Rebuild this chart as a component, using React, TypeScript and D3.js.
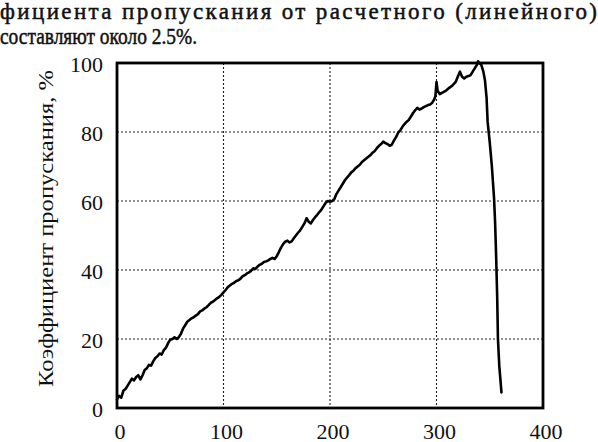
import React from "react";
import * as d3 from "d3";

const headerLines = [
  "фициента пропускания от расчетного (линейного)",
  "составляют около 2.5%.",
];
const yAxisLabel = "Коэффициент пропускания, %";
const xTicks = [0, 100, 200, 300, 400];
const yTicks = [0, 20, 40, 60, 80, 100];

const xs = [
  0, 2, 4, 6, 8, 10, 12, 14, 16, 18, 20, 22, 24, 26, 28, 30, 32, 34, 36, 38,
  40, 42, 44, 46, 48, 50, 52, 54, 56, 58, 60, 62, 64, 66, 68, 70, 72, 74, 76, 78,
  80, 82, 84, 86, 88, 90, 92, 94, 96, 98, 100, 102, 104, 106, 108, 110, 112, 114, 116, 118,
  120, 122, 124, 126, 128, 130, 132, 134, 136, 138, 140, 142, 144, 146, 148, 150, 152, 154, 156, 158,
  160, 162, 164, 166, 168, 170, 172, 174, 176, 178, 180, 182, 184, 186, 188, 190, 192, 194, 196, 198,
  200, 202, 204, 206, 208, 210, 212, 214, 216, 218, 220, 222, 224, 226, 228, 230, 232, 234, 236, 238,
  240, 242, 244, 246, 248, 250, 252, 254, 256, 258, 260, 262, 264, 266, 268, 270, 272, 274, 276, 278,
  280, 282, 284, 286, 288, 290, 292, 294, 296, 298, 299, 300, 301, 303, 306, 309, 312, 315, 318, 320,
  322, 324, 326, 328, 330, 332, 334, 336, 338, 339, 340, 342, 344, 345.5, 347, 348, 350, 352, 354, 355,
  356, 357, 357.7, 359, 361,
];
const ys = [
  2.5, 3.5, 3, 5, 5.5, 6.5, 7.5, 8.5, 8, 9, 9.5, 8.3, 9.5, 11, 11.5, 12.5, 12.3, 13.5, 14.5, 15,
  15.8, 15.5, 16.8, 17.5, 18.8, 19.8, 20, 20.5, 20, 20.5, 21.5, 23, 24, 25, 25.5, 26, 26.3, 26.8, 27.2, 28,
  28.3, 28.8, 29.2, 29.8, 30.5, 30.8, 31.3, 31.8, 32.2, 32.8, 33.5, 34.2, 35, 35.5, 36, 36.3, 36.8, 37, 37.5, 38.2,
  38.5, 39, 39.3, 39.8, 40.5, 40.3, 41, 41.5, 41.8, 42.3, 42.5, 42.8, 43.2, 43.5, 43.2, 44, 45.2, 46.5, 47.5, 48.2,
  48.5, 48, 48.3, 49.2, 50, 50.8, 51.5, 52.5, 53.5, 55, 54, 53.5, 54.5, 55.3, 56, 56.8, 57.5, 58.5, 59.5, 60,
  59.8, 60, 60.5, 62, 63, 64, 65, 66, 66.8, 67.5, 68.3, 68.8, 69.5, 70, 70.5, 71.3, 71.8, 72.3, 72.8, 73.3,
  74, 74.5, 75.3, 76, 76.5, 77.2, 76.8, 76.5, 76, 76.3, 77.5, 78.5, 79.8, 80.5, 81.5, 82.3, 83, 83.5, 84.5, 85.5,
  86.3, 87, 86.5, 86.8, 87.2, 87.5, 87.8, 88, 88.5, 89.5, 90.5, 94.5, 92, 91, 91.5, 92, 92.8, 93.5, 94.5, 96,
  97.5, 96, 95.5, 96, 96.2, 96.5, 97.5, 98.5, 99.5, 100.5, 100, 99.5, 97.5, 95, 90, 83, 77, 70, 61, 54,
  44, 32, 20, 12, 4.5,
];

const W = 598;
const H = 442;
const plot = { left: 117, right: 543, top: 63, bottom: 408 };
const css = `svg.chart text { font-family: "Liberation Serif", "Times New Roman", serif !important; }`;

export default function App() {
  const x = d3.scaleLinear().domain([0, 400]).range([plot.left, plot.right]);
  const y = d3.scaleLinear().domain([0, 100]).range([plot.bottom, plot.top]);
  const pts: [number, number][] = xs.map((v, i) => [v, ys[i]]);
  const line = d3
    .line<[number, number]>()
    .x((d) => x(d[0]))
    .y((d) => y(d[1]))
    .curve(d3.curveLinear);

  return (
    <svg
      className="chart"
      width={W}
      height={H}
      style={{ position: "absolute", left: 0, top: 0 }}
    >
      <style>{css}</style>
      <rect x={0} y={0} width={W} height={H} fill="#fff" />
      <text
        x={0}
        y={19}
        fontSize={23}
        fill="#111"
        stroke="#111"
        strokeWidth={0.5}
        textLength={597}
        lengthAdjust="spacing"
      >
        {headerLines[0]}
      </text>
      <text
        x={0}
        y={44}
        fontSize={23}
        fill="#111"
        stroke="#111"
        strokeWidth={0.5}
        textLength={197}
        lengthAdjust="spacingAndGlyphs"
      >
        {headerLines[1]}
      </text>

      {xTicks
        .filter((t) => t > 0 && t < 400)
        .map((t) => (
          <line
            key={"gx" + t}
            x1={x(t)}
            x2={x(t)}
            y1={plot.top}
            y2={plot.bottom}
            stroke="#222"
            strokeWidth={1.1}
            strokeDasharray="2 2"
          />
        ))}
      {yTicks
        .filter((t) => t > 0 && t < 100)
        .map((t) => (
          <line
            key={"gy" + t}
            x1={plot.left}
            x2={plot.right}
            y1={y(t)}
            y2={y(t)}
            stroke="#222"
            strokeWidth={1.1}
            strokeDasharray="2 2"
          />
        ))}

      <path
        d={line(pts) || ""}
        fill="none"
        stroke="#000"
        strokeWidth={2.6}
        strokeLinejoin="round"
        strokeLinecap="round"
      />

      <rect
        x={plot.left}
        y={plot.top}
        width={plot.right - plot.left}
        height={plot.bottom - plot.top}
        fill="none"
        stroke="#000"
        strokeWidth={2.8}
      />

      {yTicks.map((t) => (
        <text key={"yl" + t} x={103} y={y(t) + 9} textAnchor="end" fontSize={22} fill="#111">
          {t}
        </text>
      ))}
      {xTicks.map((t) => (
        <text key={"xl" + t} x={x(t) + 3} y={439} textAnchor="middle" fontSize={22} fill="#111">
          {t}
        </text>
      ))}

      <text
        transform={`translate(53, 228.5) rotate(-90)`}
        textAnchor="middle"
        fontSize={22}
        fill="#111"
        textLength={317}
        lengthAdjust="spacingAndGlyphs"
      >
        {yAxisLabel}
      </text>
    </svg>
  );
}
